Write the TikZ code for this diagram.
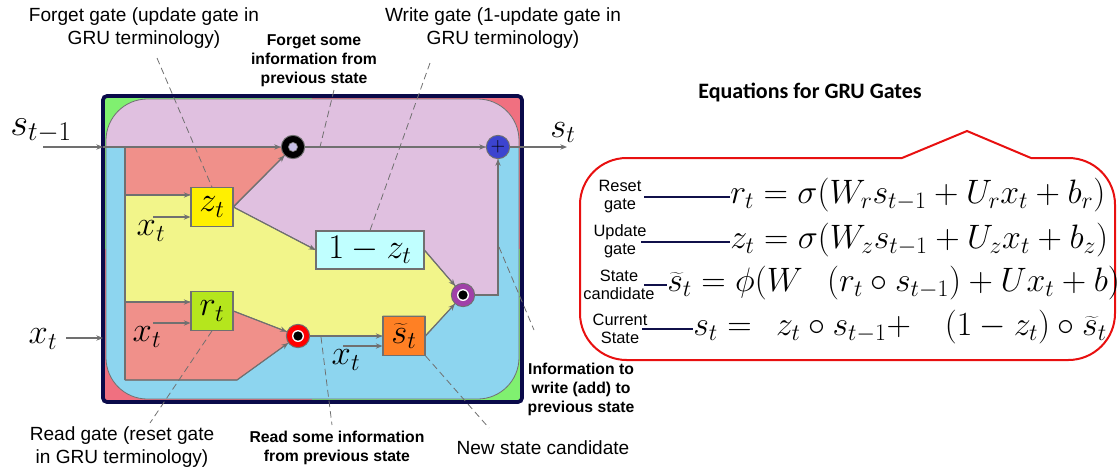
\RequirePackage{fix-cm}
\documentclass[tikz,border=0pt]{standalone}
\usepackage[no-math]{fontspec}
\newfontfamily\arialfont{Liberation Sans}
\newfontfamily\califont{Carlito}
\usetikzlibrary{arrows.meta}

\definecolor{lilac}{HTML}{E0C0E0}
\definecolor{skyfill}{HTML}{8DD5EF}
\definecolor{paleyellow}{HTML}{F2F58A}
\definecolor{salmon}{HTML}{F0908A}
\definecolor{cornergreen}{HTML}{80F070}
\definecolor{cornerred}{HTML}{F07080}
\definecolor{framenavy}{HTML}{0A0A4A}
\definecolor{zgate}{HTML}{FFF000}
\definecolor{rgate}{HTML}{B5E61D}
\definecolor{onemz}{HTML}{C0FFFF}
\definecolor{cand}{HTML}{FF8024}
\definecolor{linegray}{HTML}{707070}
\definecolor{plusblue}{HTML}{3C44D0}
\definecolor{ringpurple}{HTML}{A040A8}
\definecolor{calloutred}{HTML}{E81010}
\definecolor{labelnavy}{HTML}{10104A}
\definecolor{dotcore}{HTML}{C8C0E8}

\newcommand\mathlab{\fontsize{26}{30}\selectfont}
\newcommand\notefont{\arialfont\fontsize{14.3}{17.2}\selectfont}
\newcommand\boldnote{\arialfont\bfseries\fontsize{11.8}{14.3}\selectfont}
\newcommand\eqlabfont{\arialfont\fontsize{12.3}{13.5}\selectfont}
\newcommand\eqfont{\fontsize{25.4}{30}\selectfont}

\begin{document}
\begin{tikzpicture}[x=0.75pt,y=-0.75pt,
  line/.style={draw=linegray,line width=0.8pt},
  conn/.style={line,-{Stealth[length=5pt,width=4pt]}},
  lead/.style={draw=linegray,line width=0.6pt,dash pattern=on 5pt off 3pt},
  region/.style={draw=linegray,line width=0.6pt},
  gatebox/.style={draw=linegray,line width=0.8pt,inner sep=0pt,minimum width=31.5pt,minimum height=29pt,font=\mathlab},
  opdot/.style={circle,draw=linegray,line width=0.7pt,minimum size=17.5pt,inner sep=0pt},
  ring/.style={opdot,fill=#1,path picture={
      \fill[white] (path picture bounding box.center) circle (4.5pt);
      \fill[black] (path picture bounding box.center) circle (3.5pt);}},
  note/.style={font=\notefont,align=center},
  bnote/.style={font=\boldnote,align=center},
  mlabel/.style={font=\mathlab,inner sep=0pt},
  eqlab/.style={font=\eqlabfont,align=center,inner sep=1pt},
  eqn/.style={font=\eqfont,anchor=base west,inner sep=0pt},
  tie/.style={draw=labelnavy,line width=1.5pt},
  callout/.style={draw=calloutred,line width=1.5pt}]

\useasboundingbox (0,0) rectangle (1118,469);

% corner patches of the cell
\fill[cornergreen] (103,96) rectangle (312,249);
\fill[cornerred] (312,96) rectangle (522,249);
\fill[cornerred] (103,249) rectangle (312,402);
\fill[cornergreen] (312,249) rectangle (522,402);
\begin{scope}
\clip[rounded corners=31pt] (106,99) rectangle (519,399);
\fill[skyfill] (106,99) rectangle (519,399);
\fill[lilac] (106,99) rectangle (519,147);
\end{scope}
\draw[region,rounded corners=31pt] (106,99) rectangle (519,399);

% coloured areas
\filldraw[region,fill=salmon] (125,147) -- (293,147) -- (233,207) -- (233,195) -- (125,195) -- cycle;
\filldraw[region,fill=lilac] (293,147) -- (498,147) -- (498,295) -- (463,295) -- (424,250) -- (424,231)
  -- (316,231) -- (316,250) -- (233,207) -- cycle;
\filldraw[region,fill=paleyellow] (125,195) -- (233,195) -- (233,207) -- (316,250) -- (316,269) -- (424,269)
  -- (424,250) -- (463,295) -- (425,336) -- (425,316) -- (383,316) -- (383,336) -- (298,336)
  -- (233,311) -- (233,302) -- (125,302) -- cycle;
\filldraw[region,fill=salmon] (125,302) -- (233,302) -- (233,311) -- (298,336) -- (237,380) -- (125,380) -- cycle;

\draw[framenavy,line width=2.8pt,rounded corners=3pt] (103,96) rectangle (522,402);

% gates and operations
\node[gatebox,fill=zgate] (zt) at (212,207) {$z_t$};
\node[gatebox,fill=rgate] (rt) at (212,311) {$r_t$};
\node[gatebox,fill=onemz,minimum width=81pt,minimum height=28.5pt] (omz) at (370,250) {$1-z_t$};
\node[gatebox,fill=cand] (cand) at (404,336) {$\widetilde{s}_t$};
\node[opdot,fill=black,path picture={
    \filldraw[fill=dotcore,draw=gray,line width=0.5pt] (path picture bounding box.center) circle (3.4pt);}] (fgt) at (293,147) {};
\node[opdot,fill=plusblue,font=\Large] (add) at (498,147) {$+$};
\node[ring=ringpurple] (wrt) at (463,295) {};
\node[ring=red] (rd) at (298,336) {};

\coordinate (sin) at (43,147);
\coordinate (edge) at (103,147);
\coordinate (top) at (125,147);
\coordinate (bot) at (125,380);
\coordinate (kink) at (237,380);
\coordinate (jz) at (125,195);
\coordinate (jr) at (125,302);
\coordinate (xz) at (153,217);
\coordinate (xr) at (153,323);
\coordinate (xc) at (343,346);
\coordinate (xin) at (66,338);
\coordinate (xedge) at (103,338);
\coordinate (sout) at (567,147);

\draw[conn] (sin) -- (edge);
\draw[conn] (edge) -- (fgt);
\draw[conn] (fgt) -- (add);
\draw[conn] (add) -- (sout);
\draw[line] (top) -- (bot);
\draw[conn] (bot) -- (kink) -- (rd);
\draw[conn] (jz) -- (jz -| zt.west);
\draw[conn] (xz) -- (xz -| zt.west);
\draw[conn] (jr) -- (jr -| rt.west);
\draw[conn] (xr) -- (xr -| rt.west);
\draw[conn] (xin) -- (xedge);
\draw[conn] (zt.east) -- (fgt);
\draw[conn] (zt.east) -- (omz.west);
\draw[conn] (rt.east) -- (rd);
\draw[conn] (rd) -- (cand);
\draw[conn] (xc) -- (xc -| cand.west);
\draw[conn] (cand.east) -- (wrt);
\draw[conn] (omz.east) -- (wrt);
\draw[conn] (wrt) -| (add);

% math labels
\node[mlabel,font=\fontsize{29}{32}\selectfont,anchor=base west] (sprev) at (10,135) {$s_{t-1}$};
\node[mlabel,anchor=base west] (snext) at (550,137) {$s_t$};
\node[mlabel] (xleft) at (43,339) {$x_t$};
\node[mlabel] (xzlab) at (151,231) {$x_t$};
\node[mlabel] (xrlab) at (147,337) {$x_t$};
\node[mlabel] (xclab) at (346,360) {$x_t$};

% notes and leaders
\node[note] (fgnote) at (144,28) {Forget gate (update gate in\\GRU terminology)};
\node[bnote] (fsnote) at (314,61) {Forget some\\information from\\previous state};
\node[note] (wgnote) at (503,28) {Write gate (1-update gate in\\GRU terminology)};
\node[bnote] (winote) at (581,389) {Information to\\write (add) to\\previous state};
\node[note] (rgnote) at (122,447) {Read gate (reset gate\\in GRU terminology)};
\node[bnote] (rsnote) at (337,448) {Read some information\\from previous state};
\node[note] (ncnote) at (543,448) {New state candidate};

\coordinate (fgend) at (157,58);
\coordinate (fstop) at (334,90);
\coordinate (fsend) at (320,147);
\coordinate (wgend) at (430,63);
\coordinate (wistart) at (499,247);
\coordinate (wiend) at (534,330);
\coordinate (rgend) at (150,423);
\coordinate (rsstart) at (321,337);
\coordinate (rsend) at (332,425);
\coordinate (ncend) at (489,428);
\draw[lead] (fgend) -- (zt.north);
\draw[lead] (fstop) -- (fsend);
\draw[lead] (wgend) -- (omz.north);
\draw[lead] (wistart) -- (wiend);
\draw[lead] (rt.south) -- (rgend);
\draw[lead] (rsstart) -- (rsend);
\draw[lead] (cand.south east) -- (ncend);

% equations
\node[font=\califont\bfseries\fontsize{16.5}{19}\selectfont] (eqtitle) at (810,92) {Equations for GRU Gates};
\draw[callout] (902,158) -- (967,131) -- (1031,158);
\draw[callout,rounded corners=35pt] (1031,158) -- (1115,158) -- (1115,360) -- (580,360) -- (580,158) -- (902,158);

\node[eqlab] (lreset) at (620,197) {Reset\\gate};
\node[eqlab] (lupdate) at (620,241) {Update\\gate};
\node[eqlab] (lstate) at (619,285) {State\\candidate};
\node[eqlab] (lcurrent) at (620,329) {Current\\State};
\node[eqn] (ereset) at (730,203) {$r_t = \sigma(W_r s_{t-1} + U_r x_t + b_r)$};
\node[eqn] (eupdate) at (730,248) {$z_t = \sigma(W_z s_{t-1} + U_z x_t + b_z)$};
\node[eqn] (estate) at (667,291) {$\widetilde{s}_t = \phi(W\;\;\,(r_t\circ s_{t-1}) + U x_t + b)$};
\node[eqn] (ecurrent) at (693,335) {$s_t =\;\, z_t\circ s_{t-1}{+}\;\;\;\,(1-z_t)\circ\widetilde{s}_t$};
\coordinate (treset) at (644,197);
\coordinate (tupdate) at (641,242);
\coordinate (tstate) at (644,285);
\coordinate (tcurrent) at (642,329);
\draw[tie] (treset) -- (treset -| ereset.west);
\draw[tie] (tupdate) -- (tupdate -| eupdate.west);
\draw[tie] (tstate) -- (tstate -| estate.west);
\draw[tie] (tcurrent) -- (tcurrent -| ecurrent.west);
\end{tikzpicture}
\end{document}
